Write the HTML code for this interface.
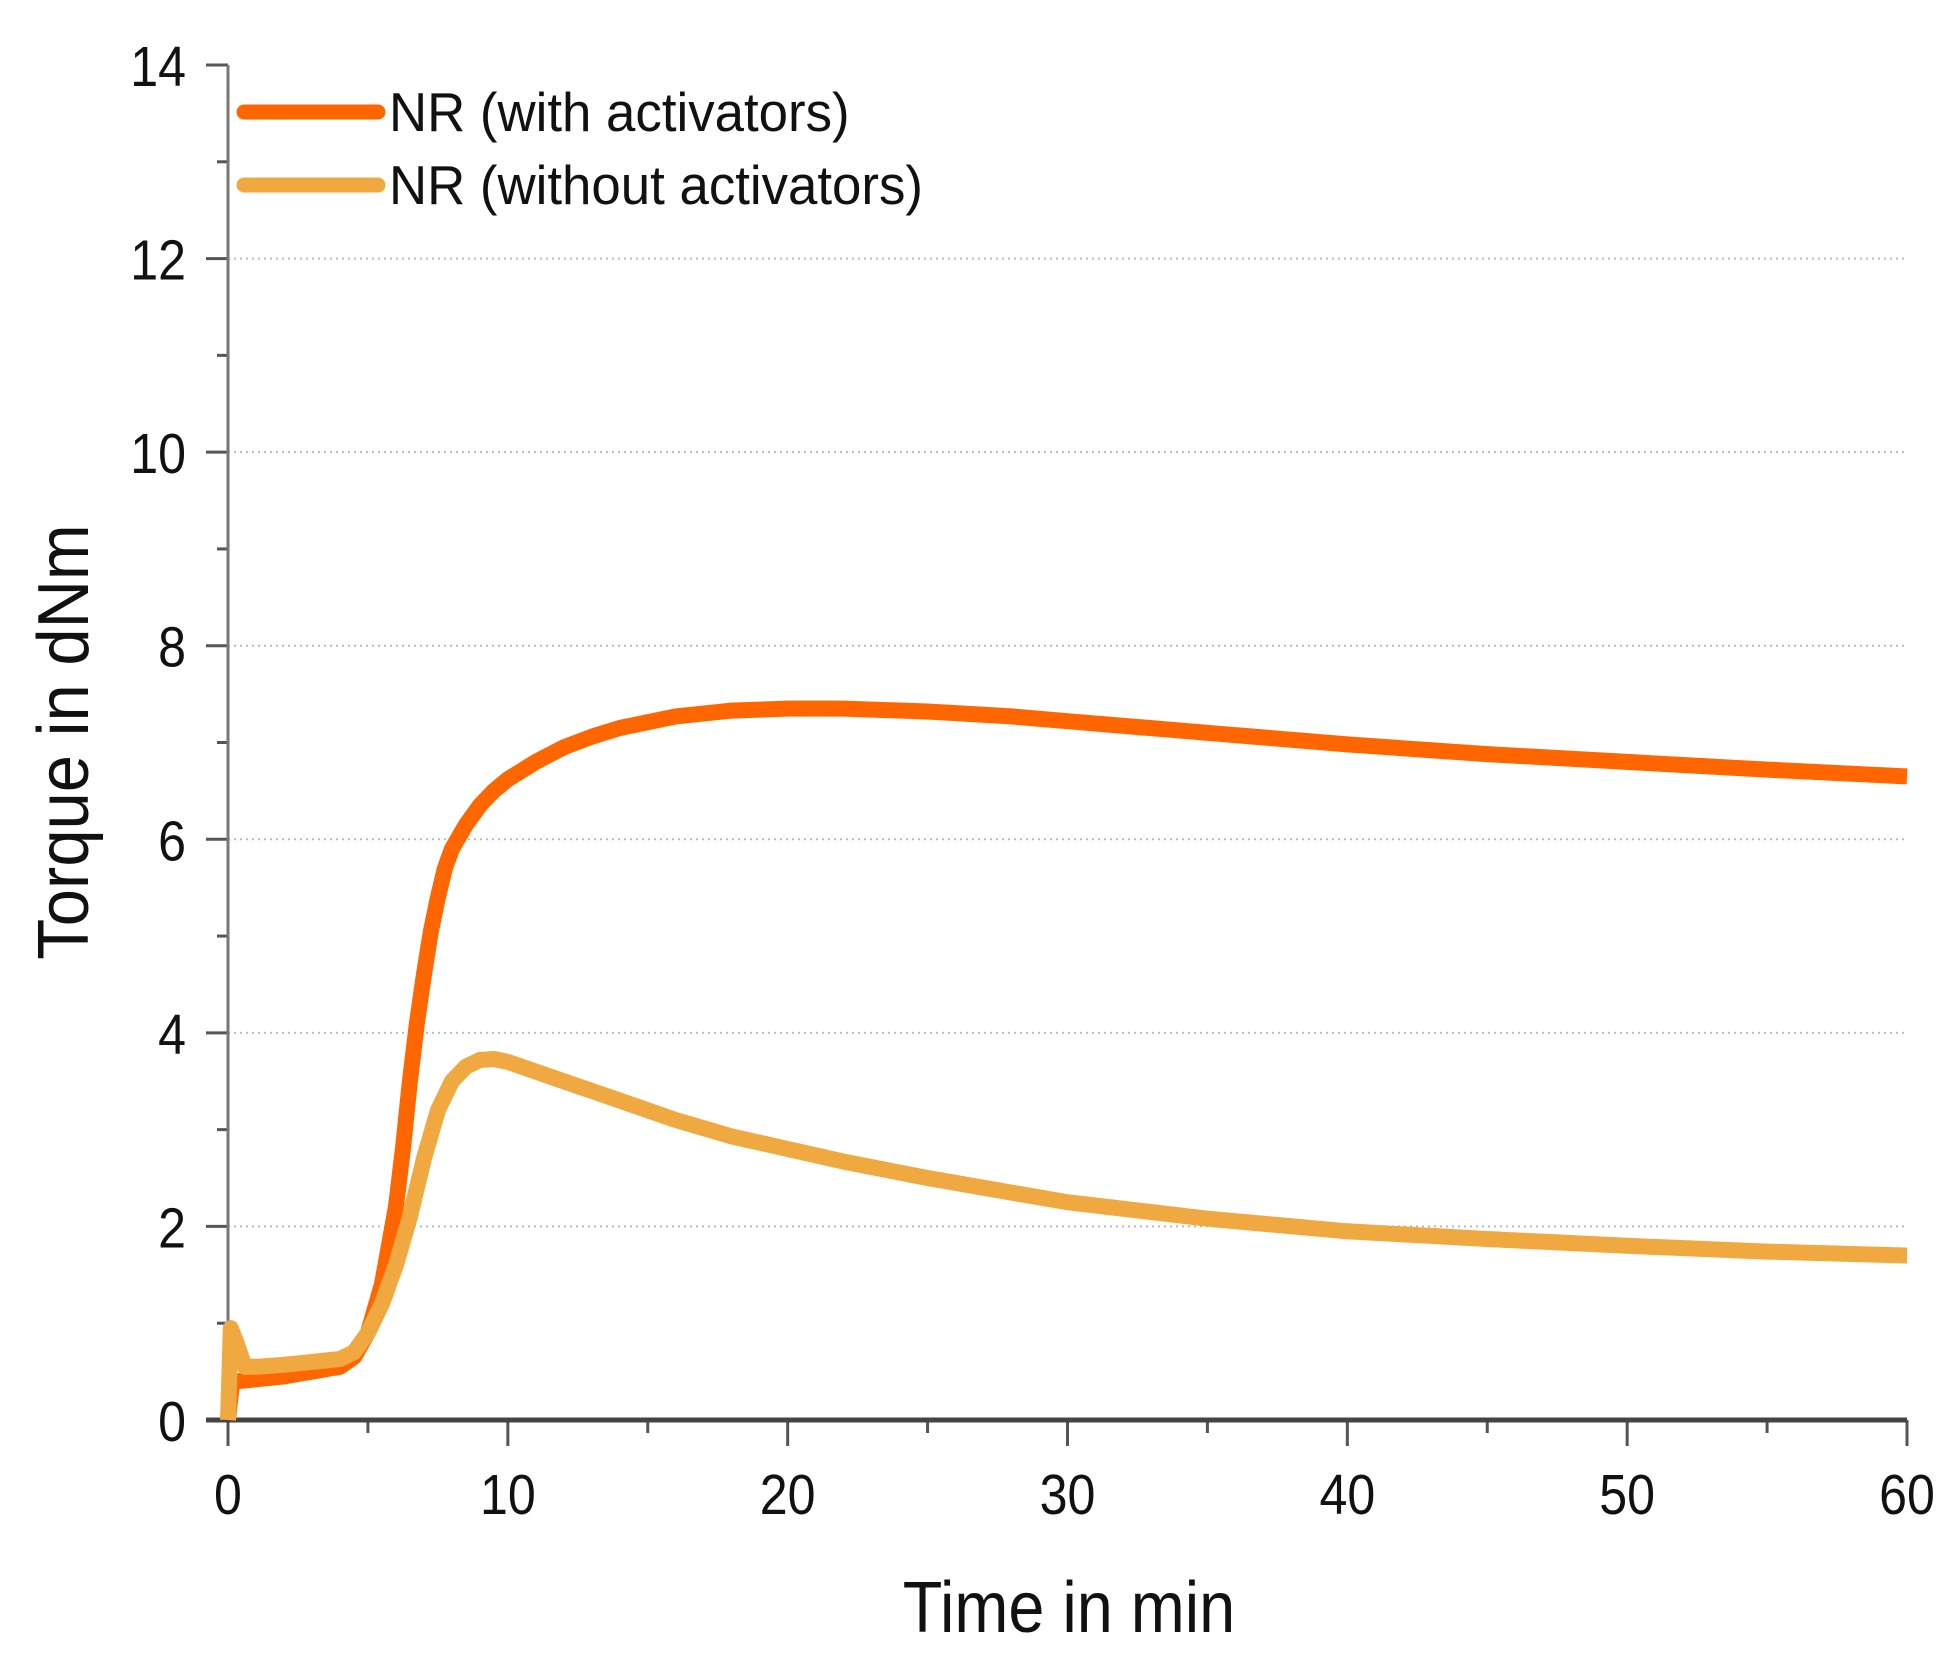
<!DOCTYPE html>
<html><head><meta charset="utf-8"><style>
html,body{margin:0;padding:0;background:#fff;}
svg{display:block;}
text{font-family:"Liberation Sans",sans-serif;fill:#111;}
</style></head><body>
<svg id="chart" width="1946" height="1659" viewBox="0 0 1946 1659" xmlns="http://www.w3.org/2000/svg">
<g id="grid"></g>
<g id="axes"></g>
<g id="series"></g>
<text x="0" y="0" font-size="72" text-anchor="middle" transform="translate(88,742) rotate(-90) scale(0.93,1)">Torque in dNm</text>
<text x="0" y="0" font-size="72" text-anchor="middle" transform="translate(1069,1632) scale(0.9,1)">Time in min</text>
<g>
<line x1="244" y1="112" x2="378" y2="112" stroke="#FF6600" stroke-width="15" stroke-linecap="round"/>
<text x="0" y="0" font-size="55" transform="translate(389,131) scale(0.96,1)">NR (with activators)</text>
<line x1="244" y1="185" x2="378" y2="185" stroke="#F0A840" stroke-width="15" stroke-linecap="round"/>
<text x="0" y="0" font-size="55" transform="translate(389,204) scale(0.96,1)">NR (without activators)</text>
</g>
</svg>
<script>
const timeWith = [0,0.15,0.3,1,2,3,4,4.5,5,5.5,6,6.25,6.5,6.75,7,7.25,7.5,7.75,8,8.5,9,9.5,10,11,12,13,14,16,18,20,22,25,28,30,35,40,45,50,55,60];
const torqueWith = [0,0.4,0.4,0.42,0.45,0.5,0.55,0.65,0.9,1.4,2.2,2.8,3.5,4.1,4.6,5.05,5.4,5.7,5.9,6.15,6.35,6.5,6.62,6.8,6.95,7.06,7.15,7.27,7.33,7.35,7.35,7.32,7.27,7.22,7.1,6.98,6.88,6.8,6.72,6.65];
const timeWithout = [0,0.1,0.3,0.6,1,2,3,4,4.5,5,5.5,6,6.5,7,7.5,8,8.5,9,9.5,10,11,12,14,16,18,20,22,25,28,30,35,40,45,50,55,60];
const torqueWithout = [0,0.95,0.8,0.55,0.55,0.57,0.6,0.63,0.7,0.9,1.2,1.6,2.1,2.7,3.2,3.5,3.65,3.72,3.73,3.7,3.6,3.5,3.3,3.1,2.93,2.8,2.67,2.5,2.35,2.25,2.08,1.95,1.87,1.8,1.74,1.7];
const xTicks = [0,10,20,30,40,50,60];
const yTicks = [0,2,4,6,8,10,12,14];

const NS="http://www.w3.org/2000/svg";
const X0=228,X1=1907,Y0=1420,Y1=65;
function sx(v){return X0+(v/60)*(X1-X0);}
function sy(v){return Y0-(v/14)*(Y0-Y1);}
function mk(tag,attrs,parent){const e=document.createElementNS(NS,tag);for(const k in attrs)e.setAttribute(k,attrs[k]);parent.appendChild(e);return e;}
const grid=document.getElementById('grid'),axes=document.getElementById('axes'),series=document.getElementById('series');
yTicks.forEach(v=>{
  if(v>0&&v<14){const g=mk('line',{x1:X0,x2:X1,y1:sy(v),y2:sy(v),stroke:'#bbb','stroke-width':2,'stroke-dasharray':'2 4'},grid);
  
  }
  const t=mk('line',{x1:X0-22,x2:X0,y1:sy(v),y2:sy(v),stroke:'#555','stroke-width':3},axes);
  
  
  const l=mk('text',{x:0,y:0,'font-size':57,'text-anchor':'end',transform:'translate('+(X0-42)+','+(sy(v)+21)+') scale(0.88,1)'},axes);l.textContent=v;
  
  
});
for(let v=1;v<14;v+=2){const t=mk('line',{x1:X0-11,x2:X0,y1:sy(v),y2:sy(v),stroke:'#555','stroke-width':3},axes);
  
  }
xTicks.forEach(v=>{
  const t=mk('line',{x1:sx(v),x2:sx(v),y1:Y0,y2:Y0+26,stroke:'#555','stroke-width':3},axes);
  
  
  const l=mk('text',{x:0,y:0,'font-size':57,'text-anchor':'middle',transform:'translate('+sx(v)+','+(Y0+94)+') scale(0.88,1)'},axes);l.textContent=v;
  
  
});
for(let v=5;v<60;v+=10){const t=mk('line',{x1:sx(v),x2:sx(v),y1:Y0,y2:Y0+13,stroke:'#555','stroke-width':3},axes);
  
  }
const ya=mk('line',{x1:X0,x2:X0,y1:Y1,y2:Y0,stroke:'#777','stroke-width':3},axes);


const xa=mk('line',{x1:X0-22,x2:X1,y1:Y0,y2:Y0,stroke:'#444','stroke-width':5},axes);


function path(xs,ys){return xs.map((x,i)=>(i?'L':'M')+sx(x).toFixed(1)+' '+sy(ys[i]).toFixed(1)).join(' ');}
const p2=mk('path',{d:path(timeWithout,torqueWithout),fill:'none',stroke:'#F0A840','stroke-width':16,'stroke-linejoin':'round'},series);


const p1=mk('path',{d:path(timeWith,torqueWith),fill:'none',stroke:'#FF6600','stroke-width':16,'stroke-linejoin':'round'},series);


series.appendChild(p2);
</script>
</body></html>
